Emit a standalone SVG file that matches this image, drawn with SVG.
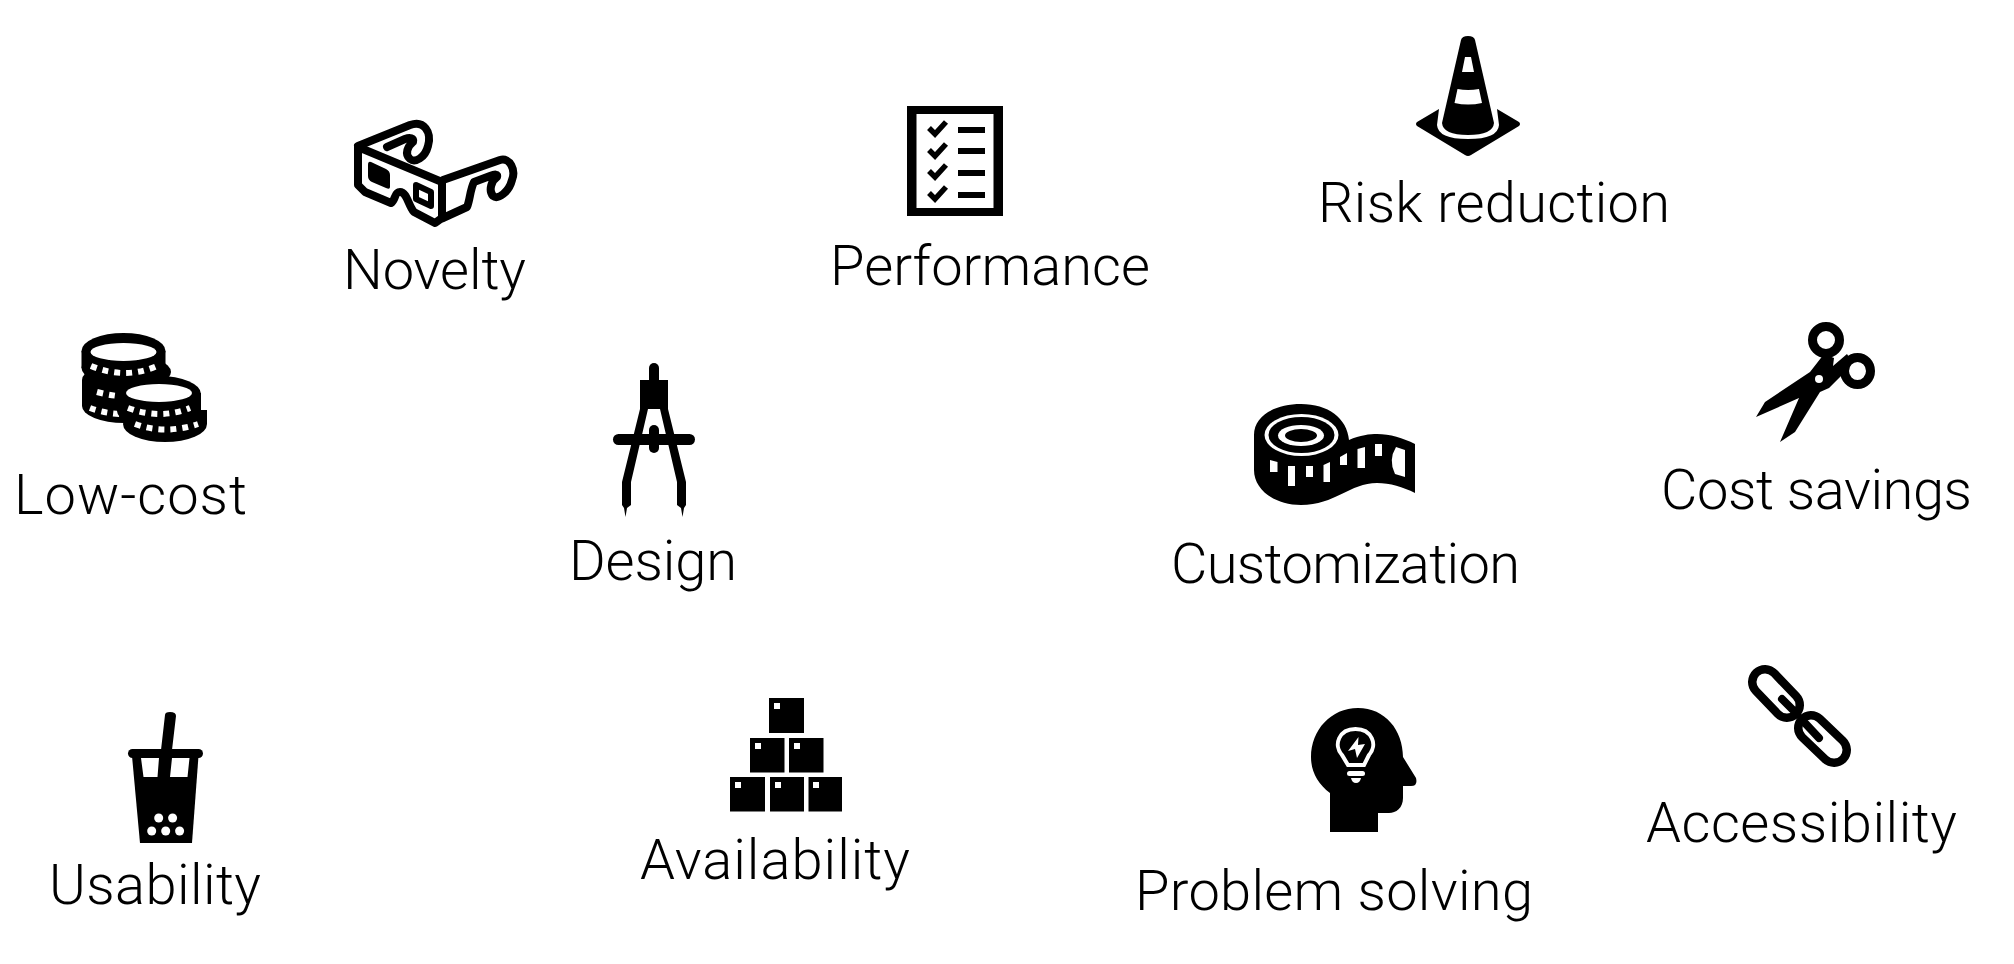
<svg xmlns="http://www.w3.org/2000/svg" width="2014" height="964" viewBox="0 0 2014 964">
<style>
text{font-family:"Roboto","Liberation Sans",sans-serif;font-weight:300;font-size:56px;fill:#000}
.k{fill:#000}.w{fill:#fff}
.s{fill:none;stroke:#000;stroke-linejoin:round;stroke-linecap:round}
.band{fill:none;stroke:#fff;stroke-width:6;stroke-dasharray:6 6}
</style>
<rect width="2014" height="964" fill="#fff"/>
<g id="connectors"/>
<g id="novelty">
<path class="s" stroke-width="8" d="M358 146L410 125C424 120 432 132 428 146C425 158 415 163 410 159C404 154 408 146 413 142C414 138 410 137 405 139L387 147"/>
<path class="s" stroke-width="8" d="M443 180L500 160C510 157 516 170 512 180C509 192 498 200 493 196C488 190 492 180 497 177C498 174 495 174 490 176L474 182C470 190 470 200 467 207L443 218"/>
<path class="s" stroke-width="8" d="M358 147L442 182L442 218L435 223L414 212C408 205 407 192 400 192C394 192 396 200 391 203L365 192L358 185Z" style="fill:#fff"/>
<path class="k" d="M371 162L386 169Q390 171 390 175L390 187Q390 190 386 188L372 182Q368 180 368 176L368 165Q368 161 371 162Z"/>
<path class="s" stroke-width="6" d="M416 185L431 192L431 206L416 199Z"/>
<text x="343" y="289" textLength="183">Novelty</text>
</g>
<g id="performance">
<rect x="907" y="106" width="96" height="110" class="k"/>
<rect x="916.5" y="114" width="77" height="94" class="w"/>
<g class="k"><rect x="958" y="127" width="27" height="6"/><rect x="958" y="148" width="27" height="6"/><rect x="958" y="170" width="27" height="6"/><rect x="958" y="192" width="27" height="6"/></g>
<path class="s" style="stroke-linecap:butt;stroke-linejoin:miter" stroke-width="5.5" d="M929 128L935 134L946 122M929 150L935 156L946 144M929 171L935 177L946 165M929 193L935 199L946 187"/>
<text x="830" y="285" textLength="320">Performance</text>
</g>
<g id="risk-reduction">
<path class="k" d="M1439 109L1417 122Q1415 124 1417 126L1465 155Q1468 157 1471 155L1519 126Q1521 124 1519 122L1497 109L1499 125Q1498 139 1468 139Q1438 139 1437 125Z"/>
<path class="k" d="M1461 40Q1462 36 1468 36Q1474 36 1475 40L1494 123Q1493 135 1468 135Q1443 135 1442 123Z"/>
<path class="w" d="M1465 57L1471 57L1474 72L1462 72ZM1457.500 89Q1468 91 1479 89L1482 103Q1468 106 1454.500 103Z"/>
<text x="1318" y="222" textLength="352">Risk reduction</text>
</g>
<g id="low-cost">
<g class="k">
<ellipse cx="124" cy="406" rx="42" ry="17"/><rect x="82" y="380" width="84" height="26"/><ellipse cx="124" cy="380" rx="42" ry="17"/>
<ellipse cx="128" cy="372" rx="43" ry="17"/>
<ellipse cx="123.500" cy="368" rx="42" ry="17"/><rect x="81.500" y="351" width="84" height="17"/><ellipse cx="123.500" cy="351" rx="42" ry="18"/>
</g>
<ellipse class="w" cx="123.500" cy="352" rx="33" ry="9"/>
<path class="band" d="M91 366Q125 380 157 366"/>
<path class="band" d="M97 392Q108 395 118 396"/>
<path class="band" d="M90 408Q103 413 120 414"/>
<ellipse class="k" cx="165" cy="424" rx="42" ry="18"/><rect x="124" y="410" width="83" height="14" class="k"/>
<ellipse class="k" cx="159" cy="411" rx="42" ry="17"/><rect x="117" y="393" width="84" height="18" class="k"/><ellipse class="k" cx="159" cy="394" rx="42" ry="18"/>
<ellipse class="w" cx="159" cy="393" rx="33" ry="9"/>
<path class="band" d="M128 408Q160 420 190 408"/>
<path class="band" d="M135 424Q165 435 198 424"/>
<text x="14" y="514" textLength="233">Low-cost</text>
</g>
<g id="design">
<rect x="649" y="363" width="10" height="30" rx="5" class="k"/>
<rect x="640" y="380" width="28" height="29" class="k"/>
<rect x="613" y="434" width="82" height="11" rx="5.500" class="k"/>
<rect x="649" y="425" width="10" height="28" rx="5" class="k"/>
<path class="k" d="M640 409L648 409L631 482L631 505L627 508L625.500 517L624 508L622 505L622 482Z"/>
<path class="k" d="M668 409L660 409L677 482L677 505L681 508L682.500 517L684 508L686 505L686 482Z"/>
<text x="569" y="580" textLength="168">Design</text>
</g>
<g id="customization">
<path class="k" d="M1254 435C1254 415 1276 404 1301 404C1328 404 1347 418 1349 440C1360 435 1370 434 1377 434C1390 434 1403 438 1415 444L1415 493C1403 487 1390 483 1377 483C1350 483 1335 505 1301 505C1275 505 1254 490 1254 470Z"/>
<ellipse class="w" cx="1301.500" cy="435" rx="37" ry="21"/>
<ellipse class="k" cx="1301.500" cy="435" rx="33" ry="18"/>
<ellipse class="w" cx="1301" cy="435.500" rx="23" ry="10.500"/>
<ellipse class="k" cx="1301" cy="435.500" rx="16" ry="6.500"/>
<g class="w"><path d="M1270 460L1277.500 462L1277.500 472L1270 472Z"/><rect x="1288" y="466" width="7" height="20"/><rect x="1306" y="466" width="7" height="11"/><path d="M1323.500 465L1330 462L1330 482L1323.500 482Z"/><path d="M1340 457L1347 453L1347 465L1340 465Z"/><path d="M1357.500 449L1365 447L1365 468L1357.500 468Z"/><rect x="1375" y="444" width="7" height="12"/><path d="M1396 447L1405 450L1405 477L1395 474Q1388 460 1396 447Z"/></g>
<text x="1171" y="583" textLength="349">Customization</text>
</g>
<g id="cost-savings">
<ellipse cx="1826" cy="340" rx="13.500" ry="13.500" fill="none" stroke="#000" stroke-width="9"/>
<ellipse cx="1857.500" cy="371" rx="13" ry="13.500" fill="none" stroke="#000" stroke-width="9"/>
<path class="k" d="M1756 417L1765 402L1810 372L1824 354L1834 358L1833 366L1847 354L1852 362L1841 376L1829 388L1820 392L1795 432L1780 442L1799 398Z"/>
<circle class="w" cx="1819" cy="379" r="4"/>
<text x="1661" y="509" textLength="311">Cost savings</text>
</g>
<g id="usability">
<path class="k" d="M165 715Q165 712 170 712Q176 712 176 716L172 750L161 750Z"/>
<rect x="128" y="749" width="75" height="9" rx="4.500" class="k"/>
<path class="k" d="M132 756L198.500 756L192 843L140 843Z"/>
<path class="w" d="M141 758L159 758L157.500 777L143.500 777ZM172 758L189.500 758L187.500 777L170 777Z"/>
<g class="w"><ellipse cx="158.700" cy="818" rx="4.500" ry="4.500"/><ellipse cx="172.600" cy="818" rx="4.500" ry="4.500"/><ellipse cx="151.700" cy="831" rx="4.500" ry="4.500"/><ellipse cx="165.700" cy="831" rx="4.500" ry="4.500"/><ellipse cx="179.600" cy="831" rx="4.500" ry="4.500"/></g>
<text x="49" y="904" textLength="212">Usability</text>
</g>
<g id="availability">
<g class="k"><rect x="769" y="698" width="35" height="35"/><rect x="750" y="738" width="34.500" height="34.500"/><rect x="789" y="738" width="34.500" height="34.500"/><rect x="730" y="777" width="35" height="34.500"/><rect x="770" y="777" width="34" height="34.500"/><rect x="808.500" y="777" width="33.500" height="34.500"/></g>
<g class="w"><rect x="774" y="703" width="6" height="6"/><rect x="755" y="743" width="6" height="6"/><rect x="794" y="743" width="6" height="6"/><rect x="735" y="782" width="6" height="6"/><rect x="775" y="782" width="6" height="6"/><rect x="813" y="782" width="6" height="6"/></g>
<text x="640" y="879" textLength="270">Availability</text>
</g>
<g id="problem-solving">
<path class="k" d="M1358 708C1385 708 1403 730 1403 757L1416 778Q1418 786 1411 786L1403 786L1403 798C1403 808 1396 813 1389 813L1378 813L1378 832L1330 832L1330 793C1318 784 1311 772 1311 757C1311 730 1331 708 1358 708Z"/>
<path fill="none" stroke="#fff" stroke-width="4" d="M1348 765L1364 765L1369 755C1378 745 1372 729 1355.500 729C1339 729 1333 745 1342 755Z"/>
<path class="w" d="M1358.500 737L1348 751L1355 749L1357 758L1365 744L1358 745Z"/>
<rect x="1347" y="771" width="18" height="5" rx="2.500" class="w"/>
<path class="w" d="M1351 778L1361 778Q1360 783 1356 783Q1352 783 1351 778Z"/>
<text x="1135" y="910" textLength="398">Problem solving</text>
</g>
<g id="accessibility">
<path class="s" stroke-width="34" d="M1765 682L1787 705"/>
<path fill="none" stroke="#fff" stroke-width="17" stroke-linecap="round" d="M1765 682L1787 705"/>
<path class="s" stroke-width="34" d="M1811 728L1834 750"/>
<path fill="none" stroke="#fff" stroke-width="17" stroke-linecap="round" d="M1811 728L1834 750"/>
<path class="s" stroke-width="8" d="M1782 699L1797 714"/>
<path class="s" stroke-width="8" d="M1804 722L1819 738"/>
<text x="1646" y="842" textLength="311">Accessibility</text>
</g>
</svg>
